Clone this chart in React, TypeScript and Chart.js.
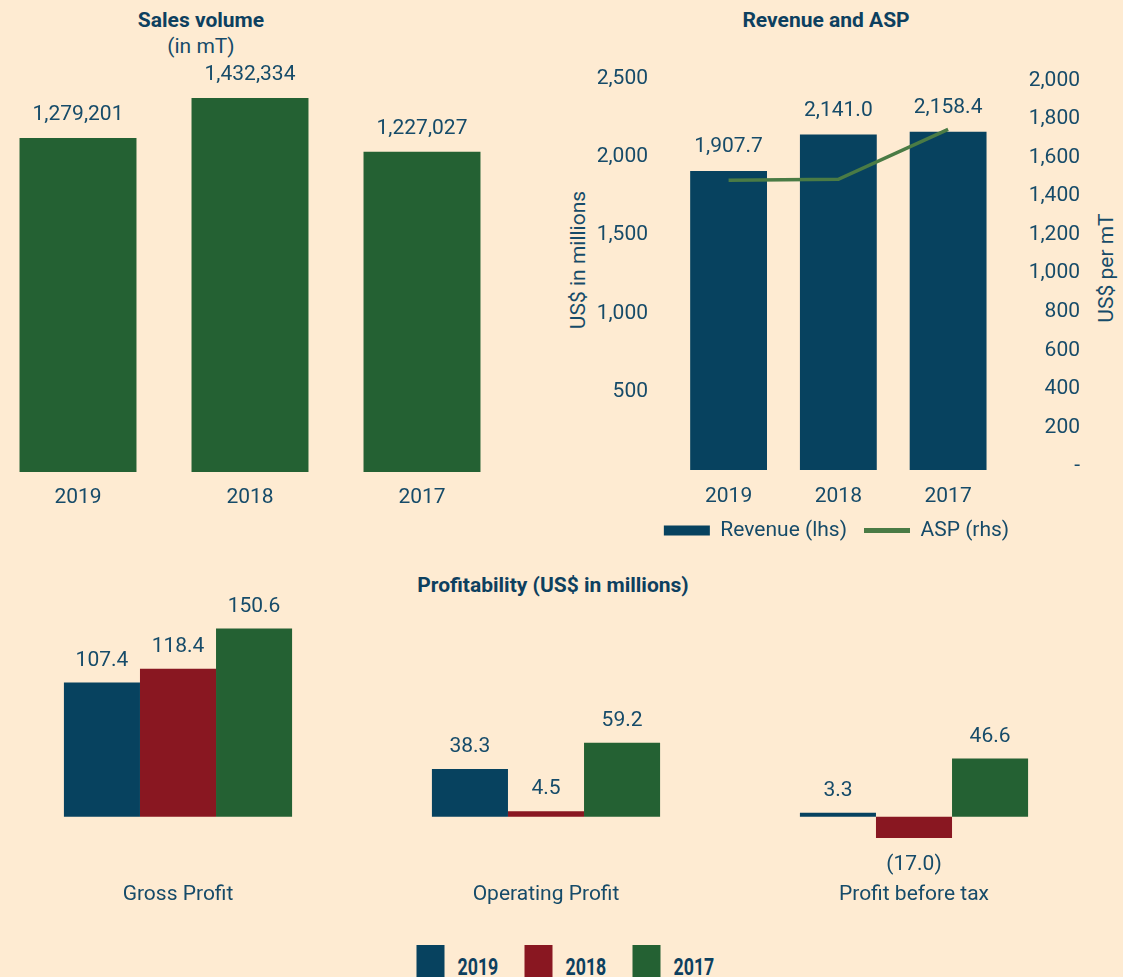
import React, { useEffect, useRef } from 'react';
import { Chart, registerables } from 'chart.js';

Chart.register(...registerables);

const BG = '#FEEBD2';
const TEXT = '#164B69';
const TITLE = '#0D405F';
const NAVY = '#07425F';
const RED = '#891721';
const GREEN = '#246133';
const ASP_GREEN = '#4A7B45';
const FONT = 'Roboto, "Noto Sans", sans-serif';

Chart.defaults.font.family = FONT;
Chart.defaults.color = TEXT;

// ---- Sales volume ----
const salesYears = ['2019', '2018', '2017'];
const salesVolume = [1279201, 1432334, 1227027];

// ---- Revenue and ASP ----
const revenueYears = ['2019', '2018', '2017'];
const revenue = [1907.7, 2141.0, 2158.4];
const asp = [1482, 1487, 1746];
const revenueTicks = [500, 1000, 1500, 2000, 2500];
const aspTicks = [0, 200, 400, 600, 800, 1000, 1200, 1400, 1600, 1800, 2000];

// ---- Profitability ----
const profitCategories = ['Gross Profit', 'Operating Profit', 'Profit before tax'];
const profitYears = ['2019', '2018', '2017'];
const profit2019 = [107.4, 38.3, 3.3];
const profit2018 = [118.4, 4.5, -17.0];
const profit2017 = [150.6, 59.2, 46.6];
const profitColors = [NAVY, RED, GREEN];

function fmtValue(v: number, fmt: string): string {
  if (fmt === 'int') return Math.round(v).toLocaleString('en-US');
  if (fmt === 'dec1')
    return v.toLocaleString('en-US', { minimumFractionDigits: 1, maximumFractionDigits: 1 });
  if (v < 0) return '(' + Math.abs(v).toFixed(1) + ')';
  return v.toFixed(1);
}

const valueLabels = {
  id: 'valueLabels',
  afterDatasetsDraw(chart: any, _args: any, opts: any) {
    if (!opts || !opts.fmt) return;
    const ctx = chart.ctx;
    ctx.save();
    ctx.font = `21px ${FONT}`;
    ctx.fillStyle = TEXT;
    ctx.textAlign = 'center';
    ctx.textBaseline = 'middle';
    chart.data.datasets.forEach((ds: any, di: number) => {
      if (!ds.showValues) return;
      const meta = chart.getDatasetMeta(di);
      meta.data.forEach((el: any, i: number) => {
        const v = ds.data[i] as number;
        const y = v >= 0 ? el.y - opts.above : el.y + opts.below;
        ctx.fillText(fmtValue(v, opts.fmt), el.x, y);
      });
    });
    ctx.restore();
  },
};

const tickFont = { size: 21, family: FONT };
const noGrid = { display: false, drawTicks: false };
const noBorder = { display: false };

function makeSales(canvas: HTMLCanvasElement) {
  return new Chart(canvas, {
    type: 'bar',
    data: {
      labels: salesYears,
      datasets: [
        {
          label: 'Sales volume',
          data: salesVolume,
          backgroundColor: GREEN,
          barPercentage: 0.68,
          categoryPercentage: 1,
          showValues: true,
        } as any,
      ],
    },
    options: {
      animation: false,
      responsive: false,
      layout: { padding: { top: 10, left: 0, right: 0, bottom: 0 } },
      plugins: {
        legend: { display: false },
        tooltip: { enabled: false },
        valueLabels: { fmt: 'int', above: 23, below: 25 },
      } as any,
      scales: {
        x: {
          grid: noGrid,
          border: noBorder,
          ticks: { color: TEXT, font: tickFont, padding: 13 },
          afterFit: (s: any) => {
            s.height = 40;
          },
        },
        y: { display: false, min: 0, max: 1578000 },
      },
    },
    plugins: [valueLabels as any],
  });
}

function makeRevenue(canvas: HTMLCanvasElement) {
  return new Chart(canvas, {
    type: 'bar',
    data: {
      labels: revenueYears,
      datasets: [
        {
          type: 'bar',
          label: 'Revenue (lhs)',
          data: revenue,
          backgroundColor: NAVY,
          barPercentage: 0.7,
          categoryPercentage: 1,
          yAxisID: 'y',
          order: 2,
          showValues: true,
        } as any,
        {
          type: 'line',
          label: 'ASP (rhs)',
          data: asp,
          borderColor: ASP_GREEN,
          backgroundColor: ASP_GREEN,
          borderWidth: 3.5,
          pointRadius: 0,
          tension: 0,
          yAxisID: 'y1',
          order: 1,
        } as any,
      ],
    },
    options: {
      animation: false,
      responsive: false,
      layout: { padding: { top: 38, left: 0, right: 0, bottom: 0 } },
      plugins: {
        tooltip: { enabled: false },
        valueLabels: { fmt: 'dec1', above: 24, below: 25 },
        legend: {
          display: true,
          position: 'bottom',
          labels: {
            usePointStyle: true,
            pointStyleWidth: 46,
            boxHeight: 10,
            padding: 17,
            color: TEXT,
            font: { size: 21, family: FONT },
            sort: (a: any, b: any) => a.datasetIndex - b.datasetIndex,
            generateLabels: (chart: any) => {
              const items = (Chart.defaults.plugins.legend.labels as any).generateLabels(chart);
              items.forEach((it: any) => {
                if (it.datasetIndex === 0) {
                  it.pointStyle = 'rect';
                  it.fillStyle = NAVY;
                  it.lineWidth = 0;
                } else {
                  it.pointStyle = 'line';
                  it.strokeStyle = ASP_GREEN;
                  it.fillStyle = ASP_GREEN;
                  it.lineWidth = 5;
                }
              });
              return items;
            },
          },
        },
      } as any,
      scales: {
        x: {
          grid: noGrid,
          border: noBorder,
          ticks: { color: TEXT, font: tickFont, padding: 14 },
          afterFit: (s: any) => {
            s.height = 33;
          },
        },
        y: {
          position: 'left',
          min: 0,
          max: 2500,
          grid: noGrid,
          border: noBorder,
          ticks: {
            color: TEXT,
            font: tickFont,
            padding: 25.7,
            callback: (v: any) => Number(v).toLocaleString('en-US'),
          },
          afterBuildTicks: (s: any) => {
            s.ticks = revenueTicks.map((v) => ({ value: v }));
          },
          afterFit: (s: any) => {
            s.width = 80.7;
          },
        },
        y1: {
          position: 'right',
          min: -20.7,
          max: 2010.4,
          grid: noGrid,
          border: noBorder,
          ticks: {
            color: TEXT,
            font: tickFont,
            crossAlign: 'far',
            callback: (v: any) => (Number(v) === 0 ? '-' : Number(v).toLocaleString('en-US')),
          },
          afterBuildTicks: (s: any) => {
            s.ticks = aspTicks.map((v) => ({ value: v }));
          },
          afterFit: (s: any) => {
            s.width = 77;
          },
        },
      },
    },
    plugins: [valueLabels as any],
  });
}

function makeProfit(canvas: HTMLCanvasElement) {
  const series = [profit2019, profit2018, profit2017];
  return new Chart(canvas, {
    type: 'bar',
    data: {
      labels: profitCategories,
      datasets: series.map((d, i) => ({
        label: profitYears[i],
        data: d,
        backgroundColor: profitColors[i],
        barPercentage: 1,
        categoryPercentage: 0.62,
        showValues: true,
      })) as any,
    },
    options: {
      animation: false,
      responsive: false,
      layout: { padding: { top: 8, left: 0, right: 0, bottom: 0 } },
      plugins: {
        legend: { display: false },
        tooltip: { enabled: false },
        valueLabels: { fmt: 'paren', above: 22, below: 27 },
      } as any,
      scales: {
        x: {
          grid: noGrid,
          border: noBorder,
          ticks: { color: TEXT, font: tickFont, padding: 34.4 },
          afterFit: (s: any) => {
            s.height = 70;
          },
        },
        y: { display: false, min: -25, max: 175 },
      },
    },
    plugins: [valueLabels as any],
  });
}

function ChartBox(props: {
  left: number;
  top: number;
  width: number;
  height: number;
  make: (c: HTMLCanvasElement) => Chart;
}) {
  const ref = useRef<HTMLCanvasElement>(null);
  useEffect(() => {
    const chart = props.make(ref.current as HTMLCanvasElement);
    return () => chart.destroy();
  }, []);
  return (
    <canvas
      ref={ref}
      width={props.width}
      height={props.height}
      style={{
        position: 'absolute',
        left: props.left,
        top: props.top,
        width: props.width,
        height: props.height,
      }}
    />
  );
}

function Label(props: {
  x: number;
  y: number;
  text: string;
  bold?: boolean;
  rotate?: boolean;
  color?: string;
}) {
  return (
    <div
      style={{
        position: 'absolute',
        left: props.x,
        top: props.y,
        transform: `translate(-50%, -50%)${props.rotate ? ' rotate(-90deg)' : ''}`,
        fontFamily: FONT,
        fontSize: 21,
        fontWeight: props.bold ? 700 : 400,
        lineHeight: 1,
        whiteSpace: 'nowrap',
        color: props.color || TEXT,
      }}
    >
      {props.text}
    </div>
  );
}

function BottomLegend() {
  return (
    <div
      style={{
        position: 'absolute',
        left: 565,
        top: 945,
        transform: 'translateX(-50%)',
        display: 'flex',
        gap: 27,
      }}
    >
      {profitYears.map((y, i) => (
        <div key={y} style={{ display: 'flex', alignItems: 'flex-start' }}>
          <div style={{ width: 28, height: 32, background: profitColors[i] }} />
          <div
            style={{
              width: 40,
              marginLeft: 13,
              marginTop: 10,
              fontFamily: FONT,
              fontWeight: 700,
              fontSize: 24,
              lineHeight: 1,
              color: TITLE,
              whiteSpace: 'nowrap',
            }}
          >
            <span
              style={{
                display: 'inline-block',
                transform: 'scaleX(0.74)',
                transformOrigin: 'left center',
              }}
            >
              {y}
            </span>
          </div>
        </div>
      ))}
    </div>
  );
}

export default function App() {
  return (
    <div
      style={{
        position: 'fixed',
        left: 0,
        top: 0,
        width: 1123,
        height: 977,
        background: BG,
        overflow: 'hidden',
        fontFamily: FONT,
      }}
    >
      <Label x={201} y={20} text="Sales volume" bold color={TITLE} />
      <Label x={201} y={46} text="(in mT)" />
      <ChartBox left={-8} top={50} width={516} height={462} make={makeSales} />

      <Label x={826} y={20} text="Revenue and ASP" bold color={TITLE} />
      <Label x={578} y={260} text="US$ in millions" rotate />
      <Label x={1106} y={268} text="US$ per mT" rotate />
      <ChartBox left={593} top={40} width={487} height={511} make={makeRevenue} />

      <Label x={553} y={585} text="Profitability (US$ in millions)" bold color={TITLE} />
      <ChartBox left={-6} top={590} width={1104} height={328} make={makeProfit} />
      <BottomLegend />
    </div>
  );
}
